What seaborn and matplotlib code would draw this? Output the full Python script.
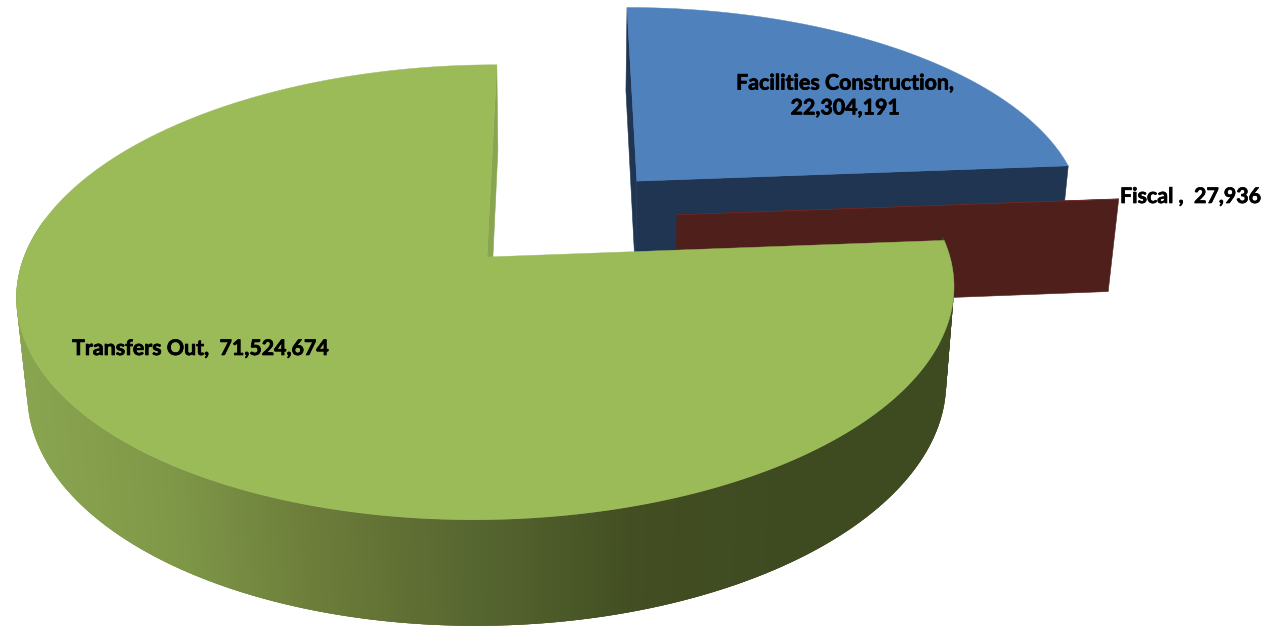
import numpy as np
import matplotlib
matplotlib.use("Agg")
import matplotlib.pyplot as plt
import matplotlib.patheffects as pe
import seaborn as sns

# Budget slices, clockwise from twelve o'clock
categories = ["Facilities Construction", "Fiscal", "Transfers Out"]
amounts = [22304191, 27936, 71524674]

TOP_COLORS = ["#4f81bd", "#6b2a26", "#9bbb59"]
WALL_COLORS = ["#1f3552", "#4f1f1c", "#8aa54f"]
SHADE_STOPS = ["#8aa550", "#7f9848", "#6b7b39", "#566630", "#434f22", "#3e4a20", "#3e4a20"]
# Explosion of each slice across the disc plane
OFFSETS = [(0.333, 0.361), (0.418, 0.196), (0.0, 0.0)]

# Perspective camera for the pie disc
XV, CY, RX, RY, K, M, H, SHEAR = 560.0, 257.0, 463.0, 222.0, 0.155, 0.02, 97.0, -73.0


def project(u, v, z=0.0):
    """Map disc coordinates (z=0 top face, z=1 bottom face) to axes coordinates."""
    u, v = np.asarray(u, float), np.asarray(v, float)
    d = 1 + K * v + M * z
    return XV + (RX * u + SHEAR) / d, CY - (RY * v - H * z) / d


def arc(t0, t1, off, n=240):
    t = np.radians(np.linspace(t0, t1, n))
    return off[0] + np.cos(t), off[1] + np.sin(t)


def radial_wall(ax, theta, off, color):
    ue, ve = off[0] + np.cos(np.radians(theta)), off[1] + np.sin(np.radians(theta))
    us, vs = [off[0], ue, ue, off[0]], [off[1], ve, ve, off[1]]
    zs = np.array([0, 0, 1, 1])
    x, y = project(us, vs, zs)
    ax.fill(x, y, color=color, lw=0.4)


def outer_wall(ax, t0, t1, off, palette):
    # Overlapping strips along the rim, shaded by their horizontal position
    edges = np.arange(t0, t1, 0.25)
    for a in edges:
        ua, va = arc(a, a + 0.75, off, 4)
        xt, yt = project(ua, va, 0)
        xb, yb = project(ua[::-1], va[::-1], 1)
        frac = np.clip((xt.mean() - 15) / 925, 0, 1)
        c = palette[int(frac * (len(palette) - 1))]
        ax.fill(np.r_[xt, xb], np.r_[yt, yb], facecolor=c, edgecolor="none", lw=0)


def top_face(ax, t0, t1, off, color):
    ua, va = arc(t0, t1, off)
    x, y = project(np.r_[off[0], ua], np.r_[off[1], va], 0)
    ax.fill(x, y, color=color, lw=0.3)


sns.set_theme(style="white")
plt.rcParams["font.family"] = ["Lato", "DejaVu Sans"]

fig = plt.figure(figsize=(12.7, 6.26), dpi=100, facecolor="white")
ax = fig.add_axes([0, 0, 1, 1])
ax.set_xlim(0, 1270)
ax.set_ylim(626, 0)
ax.axis("off")

total = sum(amounts)
sweeps = [a / total * 360 for a in amounts]
shades = sns.blend_palette(SHADE_STOPS, n_colors=512)

# Clockwise angles per slice, starting from the top of the disc
start = 90.0
spans = []
for s in sweeps:
    spans.append((start - s, start))
    start -= s

# Facilities Construction (back), then Fiscal, then Transfers Out (front)
lo, hi = spans[0]
radial_wall(ax, hi, OFFSETS[0], WALL_COLORS[0])
radial_wall(ax, lo, OFFSETS[0], WALL_COLORS[0])
top_face(ax, lo, hi, OFFSETS[0], TOP_COLORS[0])

lo, hi = spans[1]
radial_wall(ax, lo, OFFSETS[1], WALL_COLORS[1])
top_face(ax, lo, hi, OFFSETS[1], TOP_COLORS[1])

lo, hi = spans[2]
radial_wall(ax, lo, OFFSETS[2], WALL_COLORS[2])
outer_wall(ax, 170, 365, OFFSETS[2], shades)
top_face(ax, lo, hi, OFFSETS[2], TOP_COLORS[2])

label_style = dict(fontsize=15.4, fontweight="bold", color="black",
                   family=["Lato", "DejaVu Sans"],
                   path_effects=[pe.withStroke(linewidth=0.5, foreground="black")])
ax.text(845, 96, f"{categories[0]},\n{amounts[0]:,}", ha="center", va="center",
        linespacing=1.3, **label_style)
ax.text(1120, 197, f"{categories[1]} ,  {amounts[1]:,}", ha="left", va="center", **label_style)
ax.text(72, 349, f"{categories[2]},  {amounts[2]:,}", ha="left", va="center", **label_style)

sns.despine(fig=fig, left=True, bottom=True)
fig.savefig("out.png", dpi=100, facecolor="white")
